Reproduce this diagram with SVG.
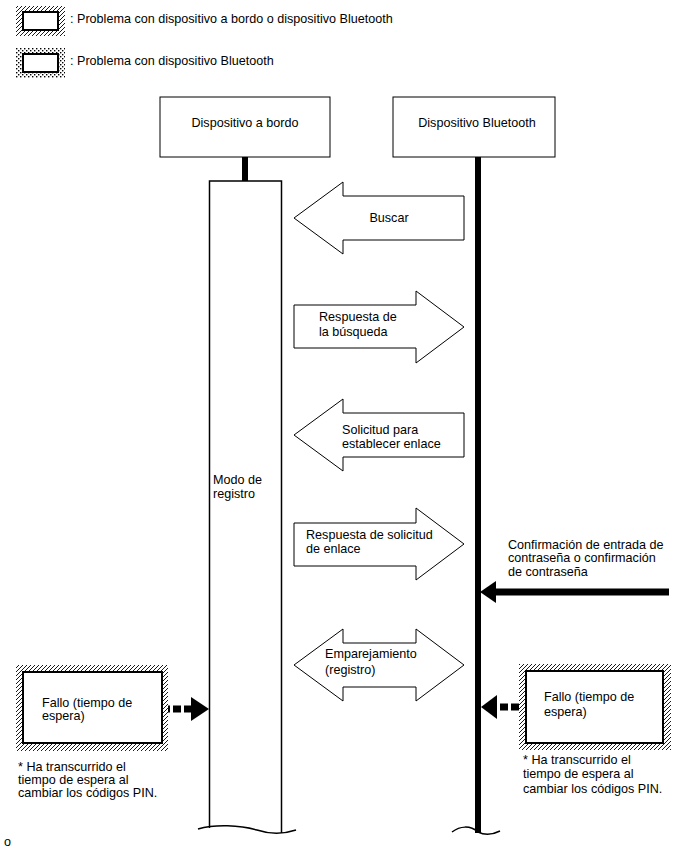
<svg xmlns="http://www.w3.org/2000/svg" width="688" height="852" viewBox="0 0 688 852">
<defs>
  <pattern id="hatch" width="4" height="4" patternUnits="userSpaceOnUse">
    <rect width="4" height="4" fill="#fff"/>
    <path d="M-1,1 L1,-1 M0,4 L4,0 M3,5 L5,3" stroke="#000" stroke-width="0.9"/>
  </pattern>
  <pattern id="dots" width="4" height="4" patternUnits="userSpaceOnUse">
    <rect width="4" height="4" fill="#fff"/>
    <rect x="0" y="0" width="1.4" height="1.4" fill="#000"/>
    <rect x="2" y="2" width="1.4" height="1.4" fill="#000"/>
  </pattern>
</defs>
<style>
  text { font-family: "Liberation Sans", Arial, sans-serif; font-size: 12.6px; fill: #000; }
  .box { fill: #fff; stroke: #000; stroke-width: 1; }
  .inner { fill: #fff; stroke: #000; stroke-width: 2; }
  .arrow { fill: #fff; stroke: #000; stroke-width: 1; }
  .thick { stroke: #000; stroke-width: 6; fill: none; }
  .wave { fill: none; stroke: #000; stroke-width: 1.5; }
  .dash { stroke: #000; stroke-width: 7; stroke-dasharray: 8 3; fill: none; }
</style>

<g id="legend">
  <rect x="16" y="6" width="49" height="30" fill="url(#hatch)"/>
  <rect x="23" y="12" width="35" height="18" class="inner"/>
  <text x="70" y="23">: Problema con dispositivo a bordo o dispositivo Bluetooth</text>
  <rect x="16" y="48" width="49" height="30" fill="url(#dots)"/>
  <rect x="23" y="54" width="35" height="18" class="inner"/>
  <text x="70" y="65">: Problema con dispositivo Bluetooth</text>
</g>

<g id="node-onboard">
  <rect x="160" y="97" width="170" height="60" class="box"/>
  <text x="245" y="127" text-anchor="middle">Dispositivo a bordo</text>
</g>

<g id="node-bluetooth">
  <rect x="393" y="97" width="162" height="60" class="box"/>
  <text x="477" y="127" text-anchor="middle">Dispositivo Bluetooth</text>
</g>

<g id="lifelines">
  <line x1="245" y1="157" x2="245" y2="181" class="thick"/>
  <path d="M209.5,828 L209.5,181 L281.5,181 L281.5,833" fill="#fff" stroke="#000" stroke-width="1.5"/>
  <path d="M198,829 C215,824 240,825 257,830 C272,835 287,833 296,830" class="wave"/>
  <line x1="478" y1="157" x2="478" y2="833" class="thick"/>
  <path d="M452,832 C460,826 470,825 478,832 C486,836 494,834 500,831" class="wave"/>
</g>

<g id="node-modo">
  <text x="213" y="484">Modo de</text>
  <text x="213" y="498">registro</text>
</g>

<g id="connectors">
  <g id="msg-buscar">
    <polygon points="294,218 343,182 343,196 464,196 464,240 343,240 343,254" class="arrow"/>
    <text x="389" y="222" text-anchor="middle">Buscar</text>
  </g>
  <g id="msg-respuesta-busqueda">
    <polygon points="294,305 416,305 416,291 464,327 416,363 416,348 294,348" class="arrow"/>
    <text x="319" y="321">Respuesta de</text>
    <text x="319" y="336">la búsqueda</text>
  </g>
  <g id="msg-solicitud">
    <polygon points="294,435 343,399 343,413 464,413 464,457 343,457 343,471" class="arrow"/>
    <text x="342" y="434">Solicitud para</text>
    <text x="342" y="448">establecer enlace</text>
  </g>
  <g id="msg-respuesta-solicitud">
    <polygon points="294,523 416,523 416,508 464,544 416,580 416,566 294,566" class="arrow"/>
    <text x="306" y="539">Respuesta de solicitud</text>
    <text x="306" y="553">de enlace</text>
  </g>
  <g id="msg-emparejamiento">
    <polygon points="294,665 343,629 343,643 416,643 416,629 464,665 416,701 416,687 343,687 343,701" class="arrow"/>
    <text x="325" y="658">Emparejamiento</text>
    <text x="325" y="674">(registro)</text>
  </g>
  <g id="msg-confirmacion">
    <line x1="669" y1="592" x2="494" y2="592" stroke="#000" stroke-width="7"/>
    <polygon points="480,592 496,581 496,603" fill="#000"/>
  </g>
  <g id="fail-left-arrow">
    <line x1="162" y1="709" x2="192" y2="709" class="dash"/>
    <polygon points="209,709 191,697 191,721" fill="#000"/>
  </g>
  <g id="fail-right-arrow">
    <line x1="519" y1="707" x2="496" y2="707" class="dash"/>
    <polygon points="481,707 497,695 497,719" fill="#000"/>
  </g>
</g>

<g id="label-confirmacion">
  <text x="508" y="549">Confirmación de entrada de</text>
  <text x="508" y="562">contraseña o confirmación</text>
  <text x="508" y="576">de contraseña</text>
</g>

<g id="node-fallo-left">
  <rect x="16" y="665" width="152" height="86" fill="url(#hatch)"/>
  <rect x="23" y="672" width="139" height="71" class="inner"/>
  <text x="42" y="707">Fallo (tiempo de</text>
  <text x="42" y="720">espera)</text>
  <text x="18" y="771">* Ha transcurrido el</text>
  <text x="18" y="784">tiempo de espera al</text>
  <text x="18" y="797">cambiar los códigos PIN.</text>
</g>

<g id="node-fallo-right">
  <rect x="519" y="664" width="152" height="86" fill="url(#hatch)"/>
  <rect x="526" y="671" width="137" height="72" class="inner"/>
  <text x="544" y="701">Fallo (tiempo de</text>
  <text x="544" y="716">espera)</text>
  <text x="523" y="764">* Ha transcurrido el</text>
  <text x="523" y="778">tiempo de espera al</text>
  <text x="523" y="793">cambiar los códigos PIN.</text>
</g>

<text x="4" y="846">o</text>
</svg>
